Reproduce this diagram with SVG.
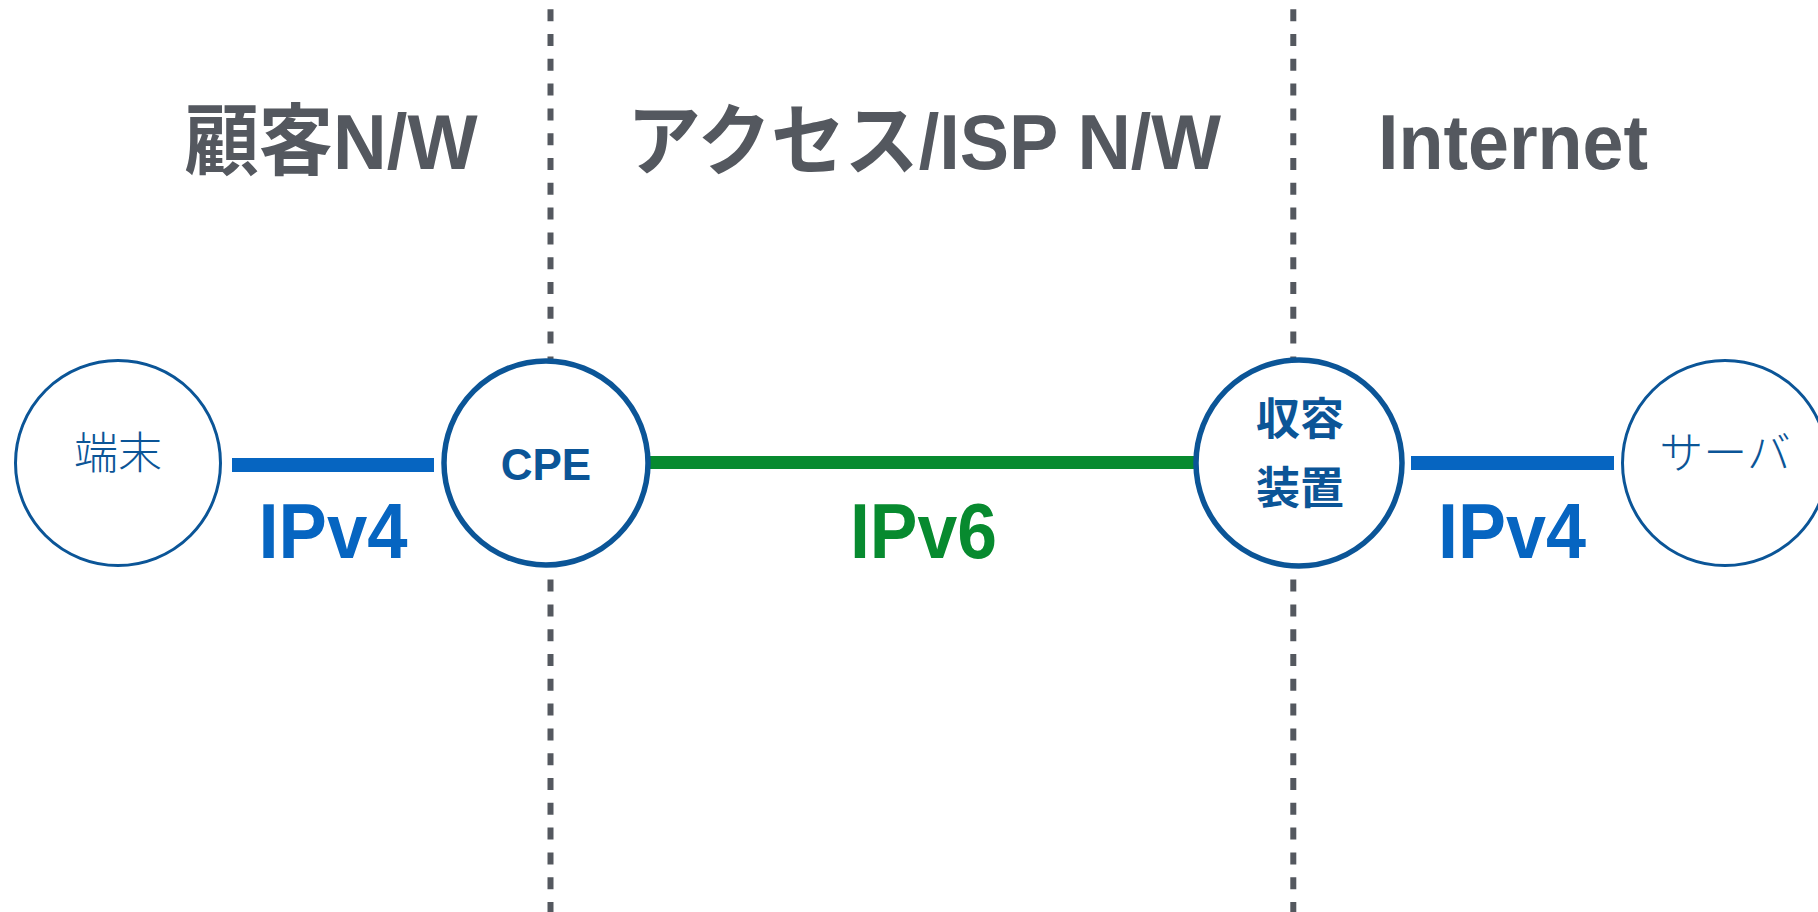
<svg xmlns="http://www.w3.org/2000/svg" width="1818" height="912" viewBox="0 0 1818 912">
<style>
.head{font-family:"Liberation Sans","Noto Sans CJK JP",sans-serif;font-weight:bold;font-size:78px;fill:#54585f;text-anchor:middle}
.div{stroke:#54585f;stroke-width:6;stroke-dasharray:12 12.8;fill:none}
.node{fill:#ffffff;stroke:#0b5597}
.thin{stroke-width:3}
.thick{stroke-width:5.5}
.lbl{font-family:"Liberation Sans","Noto Sans CJK JP",sans-serif;font-size:44px;fill:#0b5597;text-anchor:middle}
.light{font-weight:300}
.bold{font-weight:bold}
.proto{font-family:"Liberation Sans",sans-serif;font-weight:bold;font-size:78px;text-anchor:middle}
.v4{fill:#0665c1}
.v6{fill:#078a2f}
</style>
<rect width="1818" height="912" fill="#ffffff"/>
<g id="dividers">
<line class="div" x1="550.5" y1="9.2" x2="550.5" y2="912"/>
<line class="div" x1="1293.3" y1="9.2" x2="1293.3" y2="912"/>
</g>
<g id="headings">
<text class="head" x="331" y="169" textLength="293" lengthAdjust="spacingAndGlyphs">顧客N/W</text>
<text class="head" x="924" y="169" textLength="594" lengthAdjust="spacingAndGlyphs">アクセス/ISP N/W</text>
<text class="head" x="1513" y="169" textLength="270" lengthAdjust="spacingAndGlyphs">Internet</text>
</g>
<g id="connectors">
<line x1="232" y1="465" x2="434" y2="465" stroke="#0665c1" stroke-width="14"/>
<line x1="648" y1="462.5" x2="1194" y2="462.5" stroke="#078a2f" stroke-width="13"/>
<line x1="1411" y1="463" x2="1614" y2="463" stroke="#0665c1" stroke-width="14"/>
<text class="proto v4" x="333" y="558" textLength="149" lengthAdjust="spacingAndGlyphs">IPv4</text>
<text class="proto v6" x="923.5" y="558" textLength="147" lengthAdjust="spacingAndGlyphs">IPv6</text>
<text class="proto v4" x="1512" y="558" textLength="148" lengthAdjust="spacingAndGlyphs">IPv4</text>
</g>
<g id="node-terminal">
<circle class="node thin" cx="118" cy="463" r="102.5"/>
<text class="lbl light" x="118" y="469">端末</text>
</g>
<g id="node-cpe">
<circle class="node thick" cx="546" cy="463" r="102"/>
<text class="lbl bold" x="546" y="480">CPE</text>
</g>
<g id="node-aggregation">
<circle class="node thick" cx="1299" cy="463" r="103"/>
<text class="lbl bold" x="1300" y="435">収容</text>
<text class="lbl bold" x="1300" y="504">装置</text>
</g>
<g id="node-server">
<circle class="node thin" cx="1725" cy="463" r="102.5"/>
<text class="lbl light" x="1725" y="469">サーバ</text>
</g>
</svg>
